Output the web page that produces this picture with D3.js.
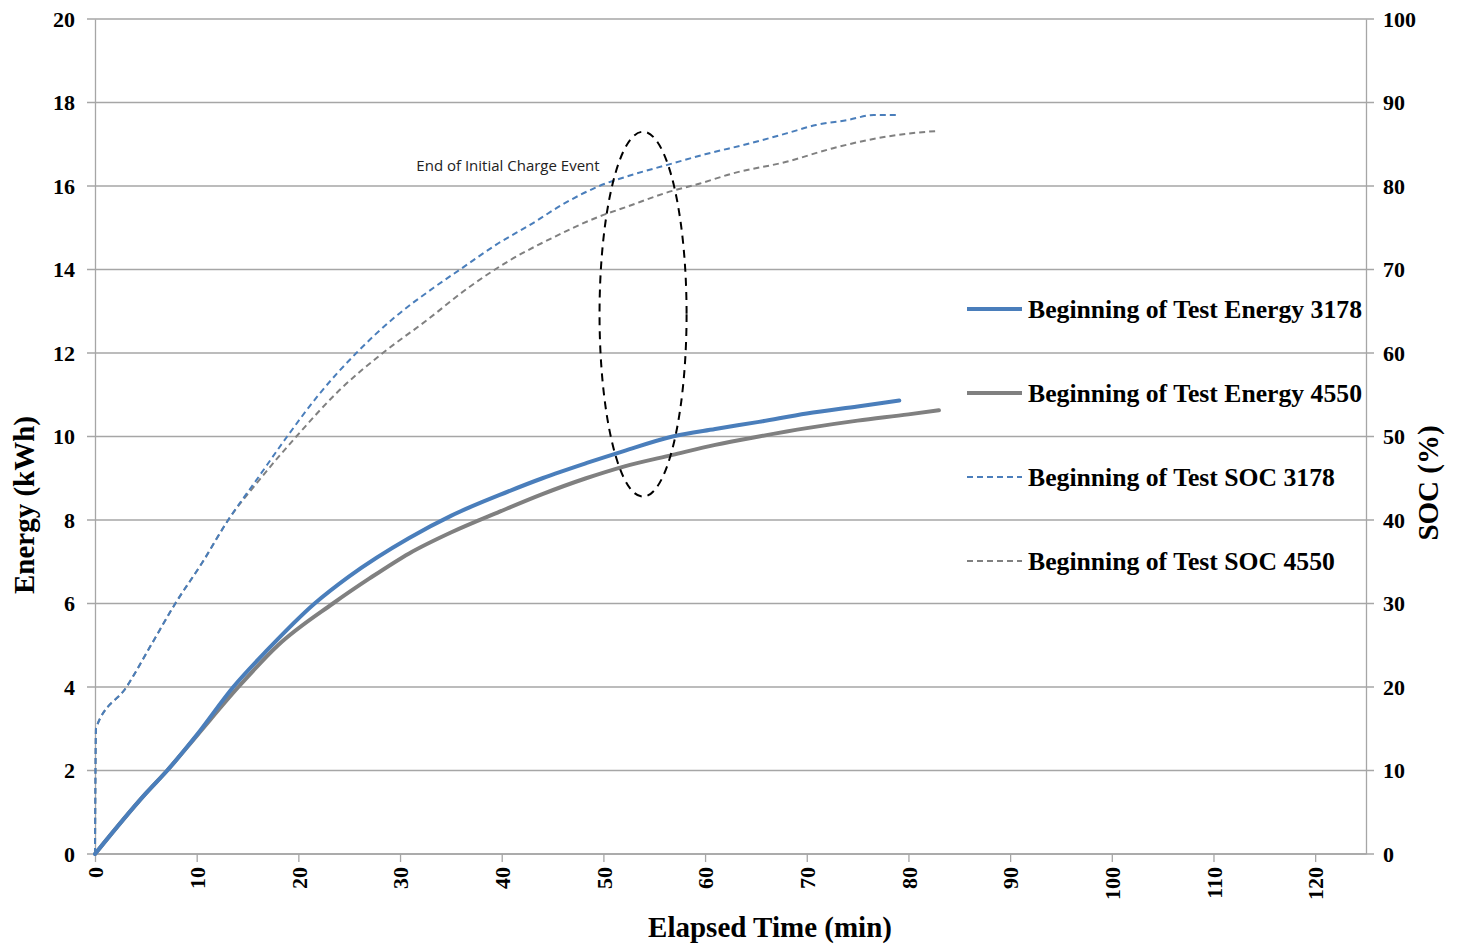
<!DOCTYPE html>
<html>
<head>
<meta charset="utf-8">
<script src="https://cdn.jsdelivr.net/npm/d3@7"></script>
<style>
  body { margin: 0; background: #fff; }
  svg text { font-family: "Liberation Serif", "Times New Roman", serif; }
</style>
</head>
<body>
<svg id="chart" width="1457" height="946"></svg>
<script>
// elapsed time (min) vs energy (kWh)
const energy3178 = [
  [0, 0], [5, 1.45], [7.1, 2.0], [10, 2.85], [13.6, 4.0], [17, 4.9], [21.6, 6.0],
  [25, 6.65], [30.9, 7.57], [35, 8.1], [39.8, 8.6], [44, 9.0], [48.3, 9.36],
  [52, 9.65], [56.8, 10.0], [61, 10.18], [65.3, 10.35], [70, 10.55], [75, 10.72], [79.1, 10.86]
];
const energy4550 = [
  [0, 0], [5, 1.45], [7.1, 2.0], [10, 2.83], [14.1, 4.0], [18, 5.0], [23.4, 6.0],
  [27, 6.6], [30.9, 7.2], [35, 7.7], [39.8, 8.2], [44, 8.62], [48.3, 9.0],
  [52, 9.28], [56.8, 9.56], [61, 9.8], [65.3, 10.0], [70, 10.2], [75, 10.38], [80, 10.53], [83, 10.63]
];
// elapsed time (min) vs SOC (%)
const soc3178 = [
  [0, 0], [0.1, 15.1], [3.1, 20], [5.5, 25], [7.9, 30], [10.6, 35], [13.1, 40], [16, 45],
  [18.9, 50], [22, 55], [25.7, 60], [29.5, 64.3], [33.4, 67.9], [35.9, 70], [39.5, 73],
  [43, 75.5], [46, 77.8], [49.6, 80], [53, 81.4], [56.2, 82.5], [60, 83.8], [64.4, 85.1],
  [68, 86.3], [70.9, 87.3], [74, 87.9], [76.6, 88.5], [79, 88.5]
];
const soc4550 = [
  [0, 0], [0.1, 15.1], [3.1, 20], [5.5, 25], [7.9, 30], [10.6, 35], [13.1, 40], [16.3, 45],
  [19.8, 50], [24, 55.5], [28.3, 60], [32.5, 63.8], [36.7, 67.8], [40.8, 71.1], [45, 73.8],
  [49.3, 76.2], [52.5, 77.6], [56.2, 79.2], [59.5, 80.3], [62.7, 81.5], [68, 82.9],
  [72.5, 84.5], [76, 85.5], [80.1, 86.3], [83, 86.6]
];

const xTicks = d3.range(0, 121, 10);
const energyTicks = d3.range(0, 21, 2);
const socTicks = d3.range(0, 101, 10);

const legendLabels = [
  "Beginning of Test Energy 3178",
  "Beginning of Test Energy 4550",
  "Beginning of Test SOC 3178",
  "Beginning of Test SOC 4550"
];
const annotationText = "End of Initial Charge Event";
// ellipse around end of initial charge: centre (min, kWh) and radii
const ellipseCentre = [53.9, 12.93];
const ellipseRadii = [4.28, 4.37];

const blue = "#4a7ebb", grey = "#808080", gridCol = "#a6a6a6";

const svg = d3.select("#chart");
const margin = { left: 95, right: 91, top: 19, bottom: 92 };
const width = 1457, height = 946;

const x = d3.scaleLinear().domain([0, 125]).range([margin.left, width - margin.right]);
const yE = d3.scaleLinear().domain([0, 20]).range([height - margin.bottom, margin.top]);
const yS = d3.scaleLinear().domain([0, 100]).range([height - margin.bottom, margin.top]);

// horizontal gridlines (extend out to the tick marks)
svg.append("g")
  .selectAll("line")
  .data(energyTicks)
  .join("line")
  .attr("x1", x(0) - 8).attr("x2", x(125) + 8)
  .attr("y1", d => yE(d)).attr("y2", d => yE(d))
  .attr("stroke", gridCol).attr("stroke-width", 1.3);

// left axis
const gL = svg.append("g")
  .attr("transform", `translate(${x(0)},0)`)
  .call(d3.axisLeft(yE).tickValues(energyTicks).tickSize(0).tickPadding(20));
gL.select(".domain").attr("stroke", gridCol).attr("stroke-width", 1.3);
gL.selectAll("text").attr("font-size", 22).attr("font-weight", "bold").attr("fill", "#000");

// right axis
const gR = svg.append("g")
  .attr("transform", `translate(${x(125)},0)`)
  .call(d3.axisRight(yS).tickValues(socTicks).tickSize(0).tickPadding(17));
gR.select(".domain").attr("stroke", gridCol).attr("stroke-width", 1.3);
gR.selectAll("text").attr("font-size", 22).attr("font-weight", "bold").attr("fill", "#000");

// bottom axis with rotated labels
const gB = svg.append("g")
  .attr("transform", `translate(0,${yE(0)})`)
  .call(d3.axisBottom(x).tickValues(xTicks).tickSize(8).tickFormat(d3.format("d")));
gB.select(".domain").attr("stroke", gridCol).attr("stroke-width", 1.3)
  .attr("d", `M${x(0)},0H${x(125)}`);
gB.selectAll(".tick line").attr("stroke", gridCol).attr("stroke-width", 1.3);
gB.selectAll("text")
  .attr("font-size", 22).attr("font-weight", "bold").attr("fill", "#000")
  .attr("transform", "rotate(-90)")
  .attr("x", -13).attr("y", 0).attr("dy", "0.35em")
  .attr("text-anchor", "end");

// axis titles
svg.append("text")
  .attr("x", 770).attr("y", 937)
  .attr("text-anchor", "middle").attr("font-size", 29).attr("font-weight", "bold")
  .text("Elapsed Time (min)");
svg.append("text")
  .attr("transform", `translate(34,505) rotate(-90)`)
  .attr("text-anchor", "middle").attr("font-size", 29).attr("font-weight", "bold")
  .text("Energy (kWh)");
svg.append("text")
  .attr("transform", `translate(1438,483) rotate(-90)`)
  .attr("text-anchor", "middle").attr("font-size", 29).attr("font-weight", "bold")
  .text("SOC (%)");

const lineE = d3.line().curve(d3.curveMonotoneX).x(d => x(d[0])).y(d => yE(d[1]));
const lineS = d3.line().curve(d3.curveMonotoneX).x(d => x(d[0])).y(d => yS(d[1]));

const series = [
  { data: soc4550, gen: lineS, color: grey, w: 2, dash: "6,4" },
  { data: soc3178, gen: lineS, color: blue, w: 2, dash: "6,4" },
  { data: energy4550, gen: lineE, color: grey, w: 4, dash: null },
  { data: energy3178, gen: lineE, color: blue, w: 4, dash: null }
];
svg.append("g")
  .selectAll("path")
  .data(series)
  .join("path")
  .attr("d", d => d.gen(d.data))
  .attr("fill", "none")
  .attr("stroke", d => d.color)
  .attr("stroke-width", d => d.w)
  .attr("stroke-dasharray", d => d.dash)
  .attr("stroke-linecap", d => d.dash ? "butt" : "round")
  .attr("stroke-linejoin", "round");

// annotation ellipse and label
svg.append("ellipse")
  .attr("cx", x(ellipseCentre[0])).attr("cy", yE(ellipseCentre[1]))
  .attr("rx", x(ellipseRadii[0]) - x(0)).attr("ry", yE(0) - yE(ellipseRadii[1]))
  .attr("fill", "none").attr("stroke", "#000").attr("stroke-width", 2)
  .attr("stroke-dasharray", "8,6");
svg.append("text")
  .attr("x", 508).attr("y", 171)
  .attr("text-anchor", "middle")
  .style("font-family", "'Open Sans', 'Liberation Sans', sans-serif")
  .attr("font-size", 15).attr("fill", "#222")
  .text(annotationText);

// legend
const legendItems = [
  { color: blue, w: 4, dash: null },
  { color: grey, w: 4, dash: null },
  { color: blue, w: 2, dash: "6,4" },
  { color: grey, w: 2, dash: "6,4" }
];
const lg = svg.append("g")
  .selectAll("g")
  .data(legendItems)
  .join("g")
  .attr("transform", (d, i) => `translate(967,${309 + i * 84})`);
lg.append("line")
  .attr("x1", 0).attr("x2", 55).attr("y1", 0).attr("y2", 0)
  .attr("stroke", d => d.color).attr("stroke-width", d => d.w)
  .attr("stroke-dasharray", d => d.dash);
lg.append("text")
  .attr("x", 61).attr("y", 0).attr("dy", "0.35em")
  .attr("font-size", 25.7).attr("font-weight", "bold")
  .text((d, i) => legendLabels[i]);
</script>
</body>
</html>
